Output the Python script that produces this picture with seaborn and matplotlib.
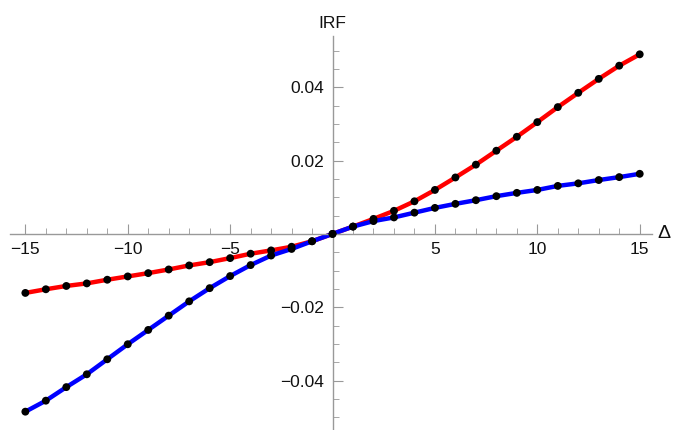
import numpy as np
import matplotlib.pyplot as plt
import pandas as pd
import seaborn as sns
from matplotlib.ticker import MultipleLocator, FuncFormatter

# values
delta = list(range(-15, 16))
red_irf = [-0.0161, -0.0151, -0.0142, -0.0135, -0.0125, -0.0116, -0.0107, -0.0097,
           -0.0086, -0.0077, -0.0066, -0.0054, -0.0045, -0.0035, -0.0020, 0.0,
           0.0020, 0.0041, 0.0063, 0.0089, 0.0120, 0.0154, 0.0189, 0.0227,
           0.0265, 0.0305, 0.0346, 0.0385, 0.0423, 0.0459, 0.0490]
blue_irf = [-0.0485, -0.0455, -0.0418, -0.0383, -0.0342, -0.0301, -0.0262, -0.0223,
            -0.0184, -0.0148, -0.0115, -0.0085, -0.0059, -0.0041, -0.0020, 0.0,
            0.0020, 0.0035, 0.0045, 0.0058, 0.0071, 0.0082, 0.0092, 0.0103,
            0.0112, 0.0120, 0.0131, 0.0138, 0.0147, 0.0155, 0.0164]

df = pd.DataFrame({'Delta': delta, 'red': red_irf, 'blue': blue_irf})

sns.set_style('white')
plt.rcParams['font.family'] = ['Liberation Sans', 'DejaVu Sans']

fig = plt.figure(figsize=(6.83, 4.3), dpi=100)
ax = fig.add_axes([10 / 683, 0.0, 642 / 683, 394 / 430])

# curves
sns.lineplot(data=df, x='Delta', y='red', color='#ff0000', linewidth=3.2, ax=ax, zorder=2)
sns.lineplot(data=df, x='Delta', y='blue', color='#0000ff', linewidth=3.2, ax=ax, zorder=2)
# black dots on top
sns.scatterplot(data=df, x='Delta', y='red', color='black', s=32, edgecolor='none', ax=ax, zorder=3)
sns.scatterplot(data=df, x='Delta', y='blue', color='black', s=32, edgecolor='none', ax=ax, zorder=3)

ax.set_xlim(-15.75, 15.6)
ax.set_ylim(-0.0535, 0.054)

# axes through the origin, Mathematica style
for side in ['top', 'right']:
    ax.spines[side].set_visible(False)
ax.spines['left'].set_position(('data', 0))
ax.spines['bottom'].set_position(('data', 0))
for side in ['left', 'bottom']:
    ax.spines[side].set_color('#999999')
    ax.spines[side].set_linewidth(1)

ax.xaxis.set_major_locator(MultipleLocator(5))
ax.xaxis.set_minor_locator(MultipleLocator(1))
ax.yaxis.set_major_locator(MultipleLocator(0.02))
ax.yaxis.set_minor_locator(MultipleLocator(0.005))

def xfmt(v, pos):
    return '' if abs(v) < 1e-9 else ('%d' % v).replace('-', '\u2212')
def yfmt(v, pos):
    return '' if abs(v) < 1e-9 else ('%.2f' % v).replace('-', '\u2212')
ax.xaxis.set_major_formatter(FuncFormatter(xfmt))
ax.yaxis.set_major_formatter(FuncFormatter(yfmt))

ax.tick_params(axis='both', which='both', bottom=True, left=True, top=False, right=False)
ax.tick_params(axis='both', which='major', direction='in', length=7, width=0.8,
               color='#999999', labelsize=12.5, labelcolor='#111111', pad=6)
ax.tick_params(axis='both', which='minor', direction='in', length=4, width=0.6,
               color='#999999')

ax.set_xlabel('')
ax.set_ylabel('')
ax.text(15.85, 0, '\u0394', fontsize=14, color='#111111', ha='left', va='center',
        clip_on=False)
ax.text(0, 0.0575, 'IRF', fontsize=12.5, color='#111111', ha='center', va='center',
        clip_on=False)

plt.savefig('out.png', dpi=100)
